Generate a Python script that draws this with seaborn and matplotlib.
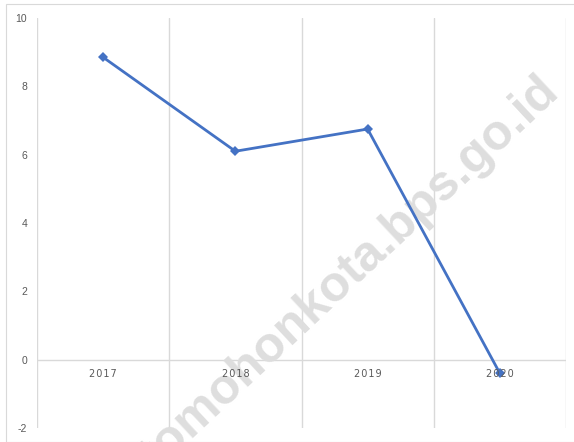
import matplotlib
matplotlib.use("Agg")
import matplotlib.pyplot as plt
import matplotlib.patches as mpatches
import pandas as pd
import seaborn as sns

# data
years = ["2017", "2018", "2019", "2020"]
values = [8.85, 6.1, 6.75, -0.4]

df = pd.DataFrame({"tahun": years, "nilai": values})

sns.set_style("white")
plt.rcParams["font.family"] = ["Liberation Sans", "DejaVu Sans"]
plt.rcParams["axes.unicode_minus"] = False

fig = plt.figure(figsize=(5.74, 4.42), dpi=100)
ax = fig.add_axes([37 / 574, 1 - 428 / 442, (566 - 37) / 574, (428 - 18) / 442])

# outer chart border
fig.patches.append(mpatches.Rectangle((6 / 574, 0), 1, 1 - 4 / 442, transform=fig.transFigure,
                                      fill=False, edgecolor="#d9d9d9", linewidth=0.8))

sns.lineplot(data=df, x="tahun", y="nilai", ax=ax, color="#4472C4", linewidth=2,
             marker="D", markersize=5, markeredgewidth=0, sort=False, zorder=3)

ax.set_xlim(-0.5, 3.5)
ax.set_ylim(-2, 10)
ax.set_yticks(range(-2, 11, 2))
ax.set_xticks([i - 0.5 for i in range(5)], minor=True)
ax.set_xticks([])
ax.grid(True, which="minor", axis="x", color="#d9d9d9", linewidth=1)
ax.axhline(0, color="#d9d9d9", linewidth=1, zorder=1)
for s in ax.spines.values():
    s.set_visible(False)
ax.tick_params(axis="y", length=0, pad=7, labelsize=7.5, labelcolor="#595959")
ax.set_xlabel("")
ax.set_ylabel("")

# category labels sit under the zero line
for i, y in enumerate(years):
    ax.annotate("\u200a".join(y), (i, 0), xytext=(0, -10.5), textcoords="offset points",
                ha="center", va="center", fontsize=7, color="#595959", family=["DejaVu Sans"])

# watermark, under the line
ax.text(350 / 574, 1 - 274 / 442, "tomohonkota.bps.go.id", transform=fig.transFigure,
        rotation=43, ha="center", va="center", fontsize=36, fontweight="bold",
        color="#dedede", zorder=2, clip_on=False)

fig.savefig("out.png", dpi=100)
